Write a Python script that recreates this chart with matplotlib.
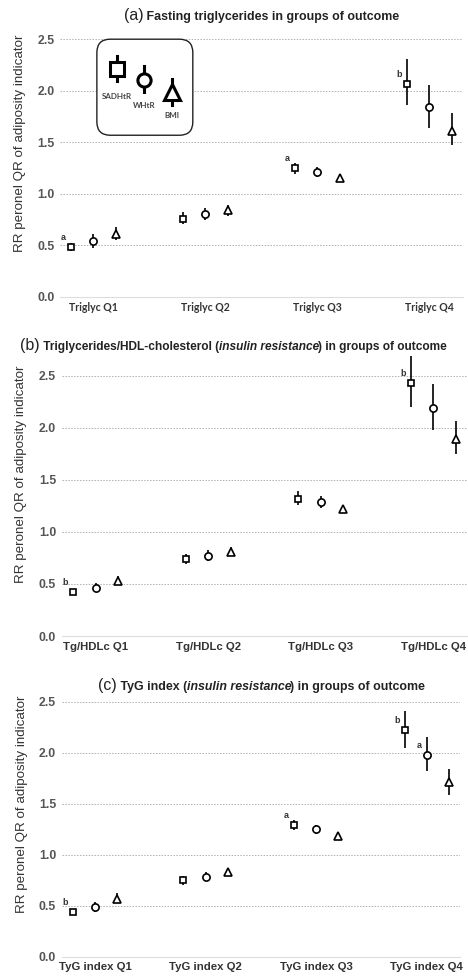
import matplotlib.pyplot as plt
from matplotlib.patches import FancyBboxPatch
import numpy as np

plt.rcParams['font.family'] = ['Liberation Sans', 'DejaVu Sans']

indicators = ['SADHtR', 'WHtR', 'BMI']
markers = ['s', 'o', '^']

# (a) fasting triglycerides
a_ticks = ['Triglyc Q1', 'Triglyc Q2', 'Triglyc Q3', 'Triglyc Q4']
a_est = [[0.48, 0.76, 1.25, 2.07],
         [0.54, 0.80, 1.21, 1.84],
         [0.61, 0.84, 1.15, 1.61]]
a_lo = [[0.45, 0.71, 1.19, 1.86],
        [0.47, 0.75, 1.16, 1.64],
        [0.55, 0.79, 1.12, 1.47]]
a_hi = [[0.52, 0.82, 1.30, 2.31],
        [0.61, 0.86, 1.26, 2.06],
        [0.68, 0.89, 1.18, 1.78]]
a_notes = [(0, 0, 'a'), (2, 0, 'a'), (3, 0, 'b')]

# (b) triglycerides / HDL-cholesterol
b_ticks = ['Tg/HDLc Q1', 'Tg/HDLc Q2', 'Tg/HDLc Q3', 'Tg/HDLc Q4']
b_est = [[0.42, 0.74, 1.32, 2.43],
         [0.46, 0.77, 1.29, 2.19],
         [0.53, 0.81, 1.22, 1.89]]
b_lo = [[0.40, 0.69, 1.26, 2.20],
        [0.42, 0.72, 1.23, 1.98],
        [0.49, 0.78, 1.19, 1.75]]
b_hi = [[0.45, 0.79, 1.39, 2.69],
        [0.51, 0.83, 1.34, 2.42],
        [0.58, 0.85, 1.26, 2.06]]
b_notes = [(0, 0, 'b'), (3, 0, 'b')]

# (c) TyG index
c_ticks = ['TyG index Q1', 'TyG index Q2', 'TyG index Q3', 'TyG index Q4']
c_est = [[0.44, 0.75, 1.29, 2.22],
         [0.49, 0.78, 1.25, 1.98],
         [0.57, 0.83, 1.18, 1.71]]
c_lo = [[0.42, 0.70, 1.24, 2.05],
        [0.44, 0.74, 1.20, 1.82],
        [0.53, 0.79, 1.14, 1.59]]
c_hi = [[0.47, 0.79, 1.34, 2.41],
        [0.54, 0.83, 1.29, 2.15],
        [0.62, 0.86, 1.21, 1.84]]
c_notes = [(0, 0, 'b'), (2, 0, 'a'), (3, 0, 'b'), (3, 1, 'a')]

yticks = [0.0, 0.5, 1.0, 1.5, 2.0, 2.5]

fig = plt.figure(figsize=(4.68, 9.8), dpi=100)
renderer = fig.canvas.get_renderer()
W = 468


def panel(rect, ticks, est, lo, hi, notes, ytop, tickfont, ticksize):
    ax = fig.add_axes(rect)
    x = np.arange(len(ticks))
    offs = [-0.2, 0.0, 0.2]
    for i in range(3):
        e = np.array(est[i])
        yerr = [e - np.array(lo[i]), np.array(hi[i]) - e]
        ax.errorbar(x + offs[i], e, yerr=yerr, fmt=markers[i], ms=5.2 if i else 4.8,
                    mfc='white', mec='black', mew=1.2, ecolor='black',
                    elinewidth=1.2, capsize=0, zorder=3, clip_on=False)
    for g, i, s in notes:
        ax.annotate(s, (x[g] + offs[i], est[i][g]), xytext=(-8, 5),
                    textcoords='offset pixels', ha='center', va='bottom',
                    fontsize=6.5, fontweight='bold', color='#333333')
    ax.set_xlim(-0.3, 3.3)
    ax.set_ylim(0, ytop)
    ax.set_yticks(yticks)
    ax.set_yticklabels(['%.1f' % v for v in yticks], fontsize=8.8,
                       fontweight='bold', color='#555555')
    ax.set_xticks(x)
    ax.set_xticklabels(ticks, fontsize=ticksize, fontweight='bold', color='#333333',
                       family=tickfont)
    ax.tick_params(length=0, pad=4)
    for v in yticks[1:]:
        ax.axhline(v, color='#b0b0b0', lw=0.7, ls=(0, (1.5, 1.5)), zorder=1)
    for s in ['top', 'right', 'left']:
        ax.spines[s].set_visible(False)
    ax.spines['bottom'].set_color('#dddddd')
    ax.set_ylabel('RR peronel QR of adiposity indicator', fontsize=9.6,
                  color='#333333')
    ax.yaxis.set_label_coords(-0.085, 0.575)
    return ax


def title(parts, y, left=None):
    ts = [fig.text(0, y, s, ha='left', va='baseline', color='#222222', **kw)
          for s, kw in parts]
    ws = [t.get_window_extent(renderer).width / W for t in ts]
    # italic pieces have a little overhang on the right
    ws = [w - (1.5 / W if kw.get('style') == 'italic' else 0)
          for w, (s, kw) in zip(ws, parts)]
    xc = (60 + 463) / 2 / W
    x0 = left if left is not None else xc - sum(ws) / 2
    for t, w in zip(ts, ws):
        t.set_x(x0)
        x0 += w


ax_a = panel([0.128, 0.697, 0.861, 0.2735], a_ticks, a_est, a_lo, a_hi,
             a_notes, 2.6, ['Lato', 'DejaVu Sans'], 7.6)
ax_b = panel([0.132, 0.351, 0.866, 0.287], b_ticks, b_est, b_lo, b_hi,
             b_notes, 2.7, ['Liberation Sans', 'DejaVu Sans'], 8.2)
ax_c = panel([0.132, 0.0238, 0.851, 0.2706], c_ticks, c_est, c_lo, c_hi,
             c_notes, 2.6, ['Liberation Sans', 'DejaVu Sans'], 8.2)

bold = dict(fontsize=8.9, fontweight='bold')
big = dict(fontsize=11.5)
ital = dict(fontsize=8.9, fontweight='bold', style='italic')
bold_b = dict(fontsize=8.6, fontweight='bold')
ital_b = dict(fontsize=8.6, fontweight='bold', style='italic')
title([('(a)', big), (' Fasting triglycerides in groups of outcome', bold)], 0.9796)
title([('(b)', big), (' Triglycerides/HDL-cholesterol (', bold_b),
       ('insulin resistance', ital_b), (') in groups of outcome', bold_b)], 0.643,
      left=20 / W)
title([('(c)', big), (' TyG index (', bold), ('insulin resistance', ital),
       (') in groups of outcome', bold)], 0.296)

# legend box
lg = fig.add_axes([0.207, 0.862, 0.205, 0.098])
lg.set_xlim(0, 1)
lg.set_ylim(0, 1)
lg.axis('off')
lg.add_patch(FancyBboxPatch((0, 0), 1, 1, boxstyle='round,pad=0,rounding_size=0.14',
                            fc='white', ec='#222222', lw=1.0, clip_on=False))
leg_x = [0.21, 0.49, 0.78]
leg_y = [0.69, 0.58, 0.45]
leg_lab = [0.40, 0.31, 0.21]
leg_ms = [9.5, 9.5, 12]
for i in range(3):
    lg.plot([leg_x[i], leg_x[i]], [leg_y[i] - 0.13, leg_y[i] + 0.14],
            color='black', lw=2.2, zorder=2)
    lg.plot(leg_x[i], leg_y[i], markers[i], ms=leg_ms[i], mfc='white',
            mec='black', mew=2.2, zorder=3)
    lg.text(leg_x[i], leg_lab[i], indicators[i], ha='center', va='center',
            fontsize=5.8, fontweight='bold', color='#444444',
            family=['Lato', 'DejaVu Sans'])

fig.savefig('out.png', dpi=100)
